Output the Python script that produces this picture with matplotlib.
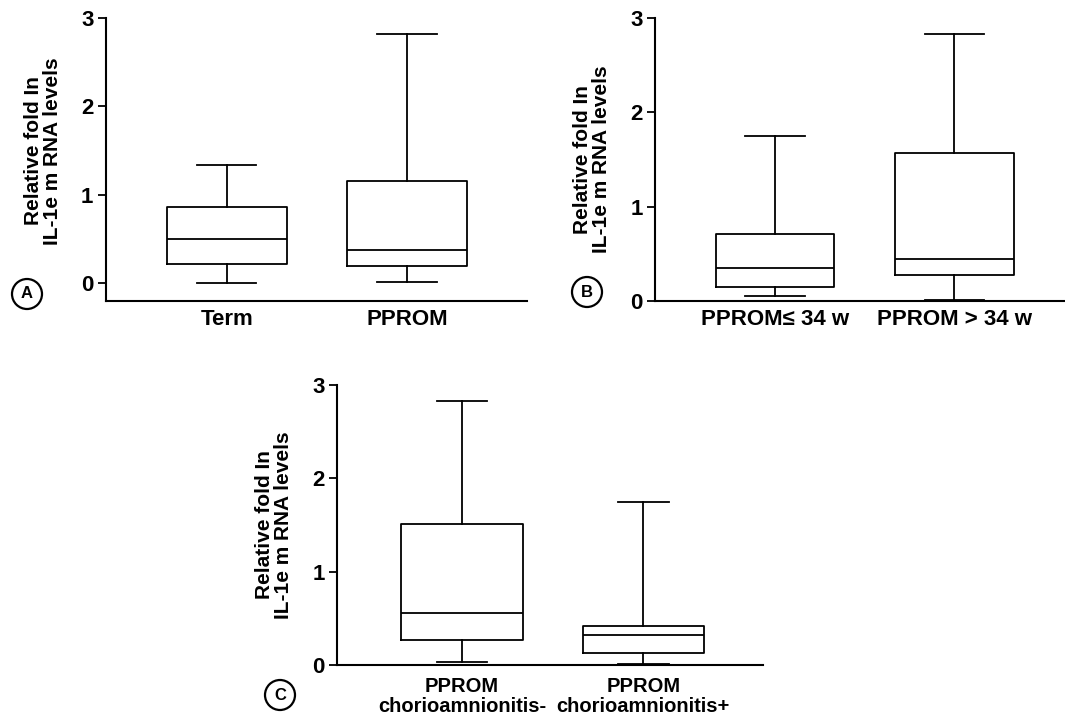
import matplotlib
matplotlib.use("Agg")
import matplotlib.pyplot as plt

# ---- data ----
cats_A = ["Term", "PPROM"]
A_whislo = [0.00, 0.01]
A_q1 = [0.215, 0.196]
A_med = [0.50, 0.38]
A_q3 = [0.86, 1.16]
A_whishi = [1.336, 2.82]

cats_B = ["PPROM\u2264 34 w", "PPROM > 34 w"]
B_whislo = [0.053, 0.015]
B_q1 = [0.145, 0.28]
B_med = [0.35, 0.44]
B_q3 = [0.714, 1.57]
B_whishi = [1.746, 2.83]

cats_C = ["PPROM\nchorioamnionitis-", "PPROM\nchorioamnionitis+"]
C_whislo = [0.035, 0.01]
C_q1 = [0.27, 0.125]
C_med = [0.56, 0.32]
C_q3 = [1.51, 0.42]
C_whishi = [2.83, 1.747]

yticks = [0, 1, 2, 3]
ylabel = "Relative fold In\nIL-1e m RNA levels"

FAM = ["Liberation Sans", "DejaVu Sans"]
TICKFAM = ["Liberation Sans Narrow", "Liberation Sans", "DejaVu Sans"]

fig = plt.figure(figsize=(10.65, 7.19), dpi=100)
W, H = 1065, 719


def make_axes(l, r, t, b):
    return fig.add_axes([l / W, 1 - b / H, (r - l) / W, (b - t) / H])


def panel(ax, cats, wlo, q1, med, q3, whi, ybot, xlim, boxw, capw,
          xfs=16, xpad=6, ylab_y=0.5):
    stats = []
    for i in range(len(cats)):
        stats.append(dict(whislo=wlo[i], q1=q1[i], med=med[i], q3=q3[i],
                          whishi=whi[i], fliers=[], label=cats[i]))
    lw = 1.3
    ax.bxp(stats, positions=range(1, len(cats) + 1), widths=boxw,
           capwidths=capw, showfliers=False,
           boxprops=dict(color="black", linewidth=lw),
           medianprops=dict(color="black", linewidth=lw),
           whiskerprops=dict(color="black", linewidth=lw),
           capprops=dict(color="black", linewidth=lw))
    ax.set_ylim(ybot, 3)
    ax.set_xlim(*xlim)
    ax.set_yticks(yticks)
    ax.set_yticklabels([str(v) for v in yticks], family=TICKFAM,
                       fontweight="bold", fontsize=16)
    ax.set_xticklabels(cats, family=FAM, fontweight="bold", fontsize=xfs,
                       linespacing=1.0)
    ax.tick_params(axis="x", length=0, pad=xpad)
    ax.tick_params(axis="y", length=6, width=1.3, pad=3)
    for s in ["top", "right"]:
        ax.spines[s].set_visible(False)
    for s in ["left", "bottom"]:
        ax.spines[s].set_linewidth(1.5)
    ax.set_ylabel(ylabel, family=FAM, fontweight="bold", fontsize=15,
                  linespacing=1.0, labelpad=14)
    ax.yaxis.label.set_y(ylab_y)


axA = make_axes(106, 527, 18, 301)
panel(axA, cats_A, A_whislo, A_q1, A_med, A_q3, A_whishi, -0.2,
      (0.33, 2.667), 0.667, 0.33, ylab_y=0.53)

axB = make_axes(655, 1065, 18, 301)
panel(axB, cats_B, B_whislo, B_q1, B_med, B_q3, B_whishi, 0,
      (0.331, 2.616), 0.66, 0.33)

axC = make_axes(337, 763, 385, 665)
panel(axC, cats_C, C_whislo, C_q1, C_med, C_q3, C_whishi, 0,
      (0.31, 2.66), 0.67, 0.28, xfs=14.5, xpad=9)

for letter, (x, y) in zip(["A", "B", "C"], [(27, 294), (587, 292), (280, 695)]):
    fig.text(x / W, 1 - y / H, letter, family=FAM, fontsize=12,
             fontweight="bold", ha="center", va="center",
             bbox=dict(boxstyle="circle,pad=0.45", fc="white", ec="black",
                       lw=1.6))

fig.savefig("out.png", dpi=100)
